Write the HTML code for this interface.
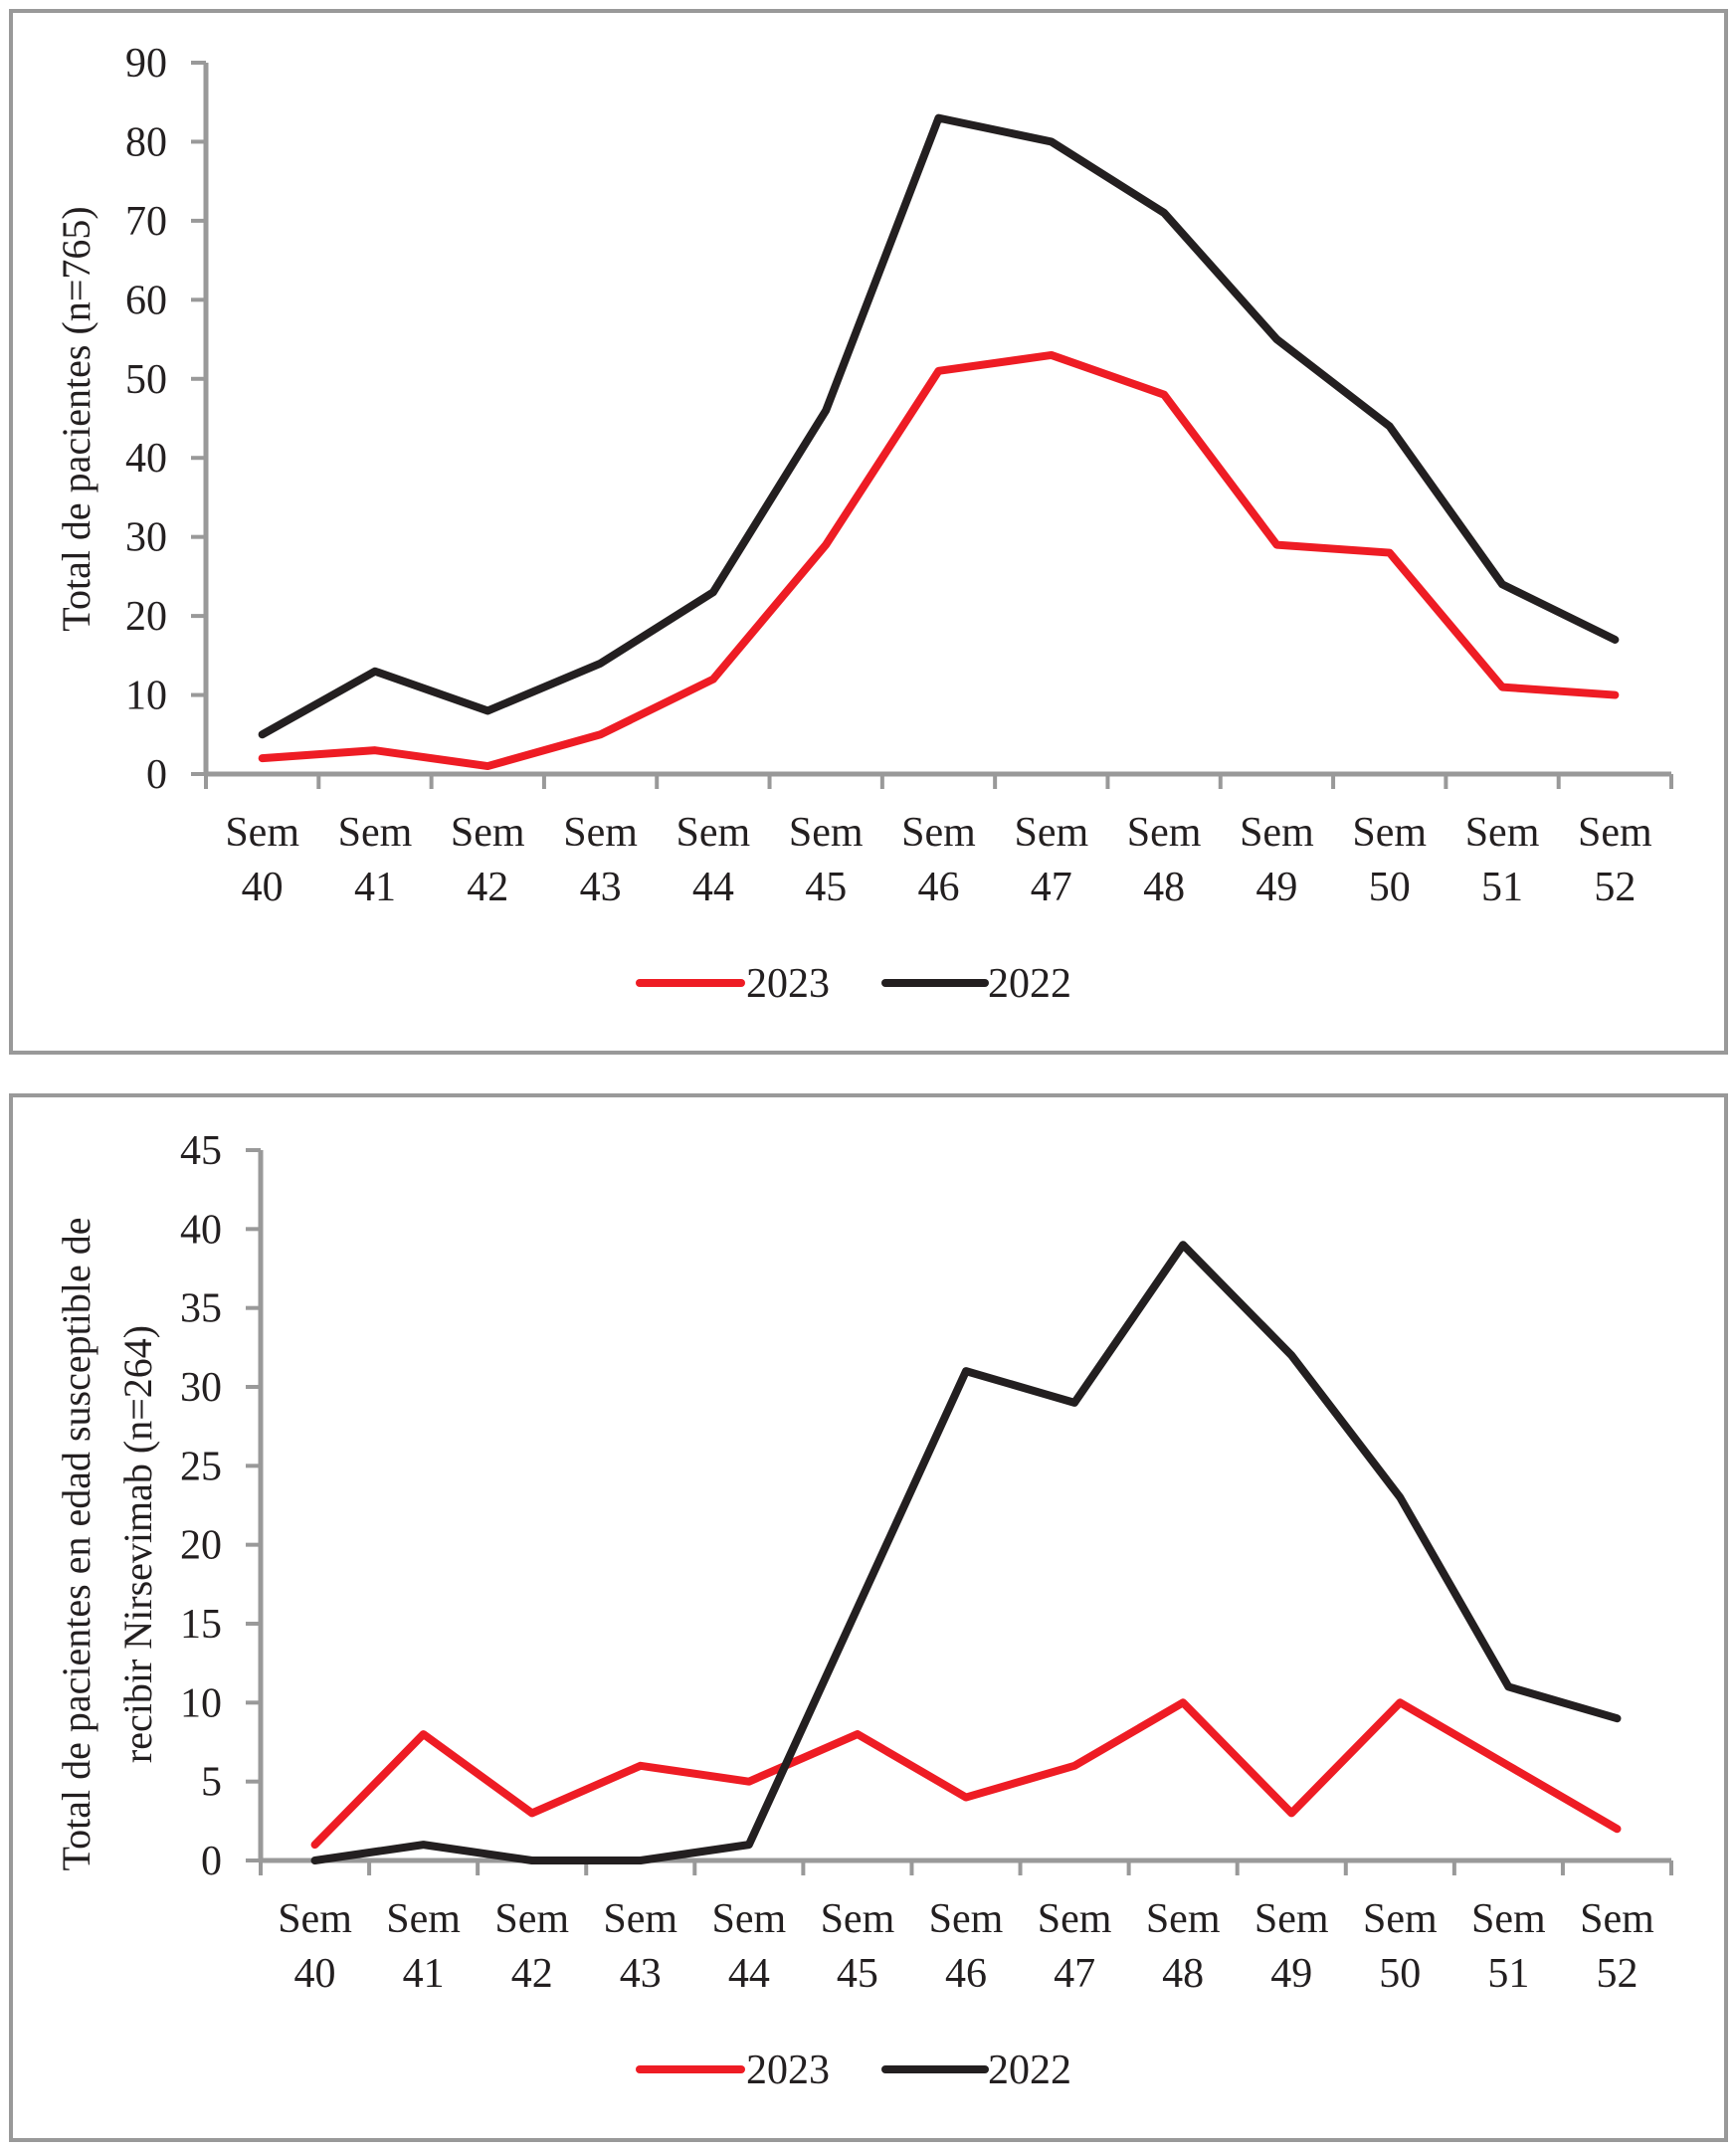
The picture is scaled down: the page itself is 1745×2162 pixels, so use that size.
<!DOCTYPE html>
<html><head><meta charset="utf-8"><style>
html,body{margin:0;padding:0;background:#fff}
svg{display:block}
text{font-family:"Liberation Serif",serif;fill:#231f20}
</style></head><body>
<svg id="s" width="1745" height="2162" xmlns="http://www.w3.org/2000/svg">
<rect x="11" y="11" width="1724" height="1047" fill="none" stroke="#999" stroke-width="4"/>
<rect x="11" y="1101" width="1724" height="1050" fill="none" stroke="#999" stroke-width="4"/>
</svg>
<script>
const categories=["40","41","42","43","44","45","46","47","48","49","50","51","52"];
const top2023=[2,3,1,5,12,29,51,53,48,29,28,11,10];
const top2022=[5,13,8,14,23,46,83,80,71,55,44,24,17];
const topTicks=[0,10,20,30,40,50,60,70,80,90];
const bot2023=[1,8,3,6,5,8,4,6,10,3,10,6,2];
const bot2022=[0,1,0,0,1,16,31,29,39,32,23,11,9];
const botTicks=[0,5,10,15,20,25,30,35,40,45];
const svg=document.getElementById('s');
const NS='http://www.w3.org/2000/svg';
function mk(tag,attrs,txt){const e=document.createElementNS(NS,tag);for(const k in attrs)e.setAttribute(k,attrs[k]);if(txt!==undefined)e.textContent=txt;svg.appendChild(e);return e;}
function chart(p,name){
  const x0=p.x0,x1=p.x1,y0=p.y0,y1=p.y1,max=p.max;
  const slot=(x1-x0)/categories.length;
  const X=i=>x0+slot*(i+0.5);
  const Y=v=>y0-(v/max)*(y0-y1);
  let e=mk('line',{x1:x0,y1:y1,x2:x0,y2:y0,stroke:'#999','stroke-width':5});
  
  
  e=mk('line',{x1:x0,y1:y0,x2:x1,y2:y0,stroke:'#999','stroke-width':5});
  
  
  p.ticks.forEach(t=>{
    let l=mk('line',{x1:x0-15,y1:Y(t),x2:x0,y2:Y(t),stroke:'#999','stroke-width':4});
    
    
    let tx=mk('text',{x:p.lblX,y:Y(t)+14,'text-anchor':'end','font-size':42},String(t));
    
    
  });
  for(let i=0;i<=categories.length;i++){
    let l=mk('line',{x1:x0+slot*i,y1:y0,x2:x0+slot*i,y2:y0+15,stroke:'#999','stroke-width':4});
    
    
  }
  categories.forEach((c,i)=>{
    let t=mk('text',{x:X(i),y:p.lab1,'text-anchor':'middle','font-size':42},'Sem');
    
    
    t=mk('text',{x:X(i),y:p.lab2,'text-anchor':'middle','font-size':42},c);
    
    
  });
  [[p.s2023,'#ee1c24','2023'],[p.s2022,'#231f20','2022']].forEach(([d,col,n])=>{
    const pts=d.map((v,i)=>X(i)+','+Y(v)).join(' ');
    let pl=mk('polyline',{points:pts,fill:'none',stroke:col,'stroke-width':8,'stroke-linejoin':'round','stroke-linecap':'round'});
    
    
  });
  let l=mk('line',{x1:643,y1:p.leg,x2:745,y2:p.leg,stroke:'#ee1c24','stroke-width':8,'stroke-linecap':'round'});
  
  
  let t=mk('text',{x:750,y:p.leg+14,'font-size':42},'2023');
  
  
  l=mk('line',{x1:890,y1:p.leg,x2:990,y2:p.leg,stroke:'#231f20','stroke-width':8,'stroke-linecap':'round'});
  
  
  t=mk('text',{x:993,y:p.leg+14,'font-size':42},'2022');
  
  
}
chart({x0:207,x1:1680,y0:778,y1:63,max:90,ticks:topTicks,lblX:168,lab1:850,lab2:905,s2023:top2023,s2022:top2022,leg:988},'top-chart');
chart({x0:262,x1:1680,y0:1870,y1:1156,max:45,ticks:botTicks,lblX:223,lab1:1942,lab2:1997,s2023:bot2023,s2022:bot2022,leg:2080},'bottom-chart');
let t=mk('text',{x:0,y:0,'text-anchor':'middle','font-size':40,transform:'translate(90,421) rotate(-90)'},'Total de pacientes (n=765)');


t=mk('text',{x:0,y:0,'text-anchor':'middle','font-size':40,transform:'translate(90,1552) rotate(-90)'},'Total de pacientes en edad susceptible de');


t=mk('text',{x:0,y:0,'text-anchor':'middle','font-size':40,transform:'translate(152,1552) rotate(-90)'},'recibir Nirsevimab (n=264)');


</script>
</body></html>
